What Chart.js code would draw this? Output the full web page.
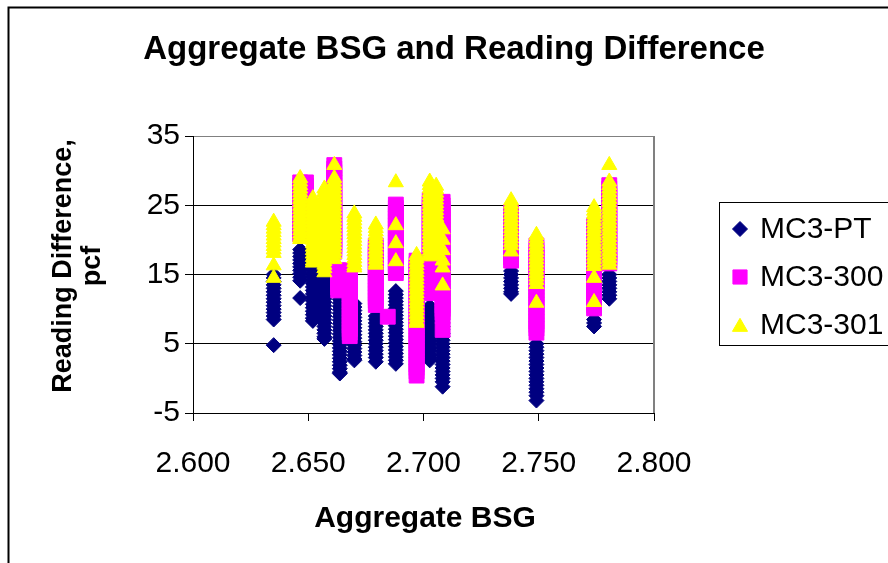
<!DOCTYPE html>
<html>
<head>
<meta charset="utf-8">
<script src="https://cdn.jsdelivr.net/npm/chart.js@4/dist/chart.umd.min.js"></script>
<style>
  html, body { margin: 0; padding: 0; background: #ffffff; }
  #wrap { position: relative; width: 888px; height: 563px; overflow: hidden; }
  canvas { display: block; }
</style>
</head>
<body>
<div id="wrap"><canvas id="c" width="888" height="563"></canvas></div>
<script>
// ---- Data ----
const titleText = 'Aggregate BSG and Reading Difference';
const xTitle = 'Aggregate BSG';
const yTitleLines = ['Reading Difference,', 'pcf'];
const seriesNames = ['MC3-PT', 'MC3-300', 'MC3-301'];
const xTickValues = [2.600, 2.650, 2.700, 2.750, 2.800];
const yTickValues = [-5, 5, 15, 25, 35];

// MC3-PT : column x positions and the readings stacked at each
const ptX = [2.635, 2.6465, 2.652, 2.657, 2.6637, 2.670, 2.6793, 2.688, 2.7027, 2.7083, 2.738, 2.749, 2.774, 2.7806];
const ptY = [
  [15, 14.5, 14, 13.5, 13, 12.5, 12, 11.5, 11, 10.5, 10, 9.5, 9, 8.5, 4.8],
  [18.6, 18.1, 17.6, 17.1, 16.6, 16.1, 15.6, 15.1, 14.6, 14.1, 11.6],
  [15.7, 15.2, 14.7, 14.2, 13.7, 13.2, 12.7, 12.2, 11.7, 11.2, 10.7, 10.2, 9.7, 9.2, 8.7, 8.3],
  [14.5, 14, 13.5, 13, 12.5, 12, 11.5, 11, 10.5, 10, 9.5, 9, 8.5, 8, 7.5, 7, 6.5, 6, 5.7],
  [11.4, 10.9, 10.4, 9.9, 9.4, 8.9, 8.4, 7.9, 7.4, 6.9, 6.4, 5.9, 5.4, 4.9, 4.4, 3.9, 3.4, 2.9, 2.4, 1.9, 1.4, 0.9, 0.7],
  [10.8, 10.3, 9.8, 9.3, 8.8, 8.3, 7.8, 7.3, 6.8, 6.3, 5.8, 5.3, 4.8, 4.3, 3.8, 3.3, 2.8, 2.6],
  [9, 8.5, 8, 7.5, 7, 6.5, 6, 5.5, 5, 4.5, 4, 3.5, 3, 2.4],
  [12.6, 12.1, 11.6, 11.1, 10.6, 10.1, 9.6, 9.1, 8.6, 8.1, 7.6, 7.1, 6.6, 6.1, 5.6, 5.1, 4.6, 4.1, 3.6, 3.1, 2.6, 2.1],
  [13.5, 10.4, 9.9, 9.4, 8.9, 8.4, 7.9, 7.4, 6.9, 6.4, 5.9, 5.4, 4.9, 4.4, 3.9, 3.4, 2.9, 2.6],
  [8, 7.5, 7, 6.5, 6, 5.5, 5, 4.5, 4, 3.5, 3, 2.5, 2, 1.5, 1, 0.5, 0, -0.5, -1.2],
  [15.5, 15, 14.5, 14, 13.5, 13, 12.5, 12.2],
  [5, 4.5, 4, 3.5, 3, 2.5, 2, 1.5, 1, 0.5, 0, -0.5, -1, -1.5, -2, -2.5, -3.2],
  [8.5, 8, 7.5],
  [15, 14.5, 14, 13.5, 13, 12.5, 12, 11.5]
];

// MC3-300
const m300X = [2.6465, 2.649, 2.6613, 2.663, 2.668, 2.6793, 2.6845, 2.688, 2.697, 2.7027, 2.7083, 2.738, 2.749, 2.774, 2.7806];
const m300Y = [
  [28.3, 27.8, 27.3, 26.8, 26.3, 25.8, 25.3, 24.8, 24.3, 23.8, 23.3, 22.8, 22.3, 21.8, 21.3, 20.8],
  [28.3, 27.8, 27.3, 26.8, 26.3, 25.8, 25.3, 24.8, 24.3, 23.8, 23.3, 22.8, 22.3, 21.8, 21.3],
  [30.8, 30.3, 29.8, 29.3, 28.8, 28.3, 27.8, 27.3, 26.8, 26.3, 25.8, 25.3, 24.8, 24.3, 23.8, 23.3, 22.8, 22.3, 21.8, 21.3, 20.8, 20.3, 19.8, 19.3, 18.8, 18.3],
  [15.6, 15.1, 14.6, 14.1, 13.6, 13.1, 12.7],
  [15.6, 15.1, 14.6, 14.1, 13.6, 13.1, 12.6, 12.1, 11.6, 11.1, 10.6, 10.1, 9.6, 9.1, 8.6, 8.1, 7.6, 7.1, 6.6, 6.1],
  [19.2, 18.7, 18.2, 17.7, 17.2, 16.7, 16.2, 15.7, 15.2, 14.7, 14.2, 13.7, 13.2, 12.7, 12.2, 11.7, 11.2, 10.6],
  [8.9],
  [25.1, 24.6, 24.1, 23.6, 23.1, 22.6, 22.1, 21.6, 21.1, 20.6, 20.1, 19.6, 19.1, 18.6, 18.1, 17.6, 17.1, 16.6, 16.1, 15.6, 15.2],
  [17, 16.5, 16, 15.5, 15, 14.5, 14, 13.5, 13, 12.5, 12, 11.5, 11, 10.5, 10, 9.5, 9, 8.5, 8, 7.5, 7, 6.5, 6, 5.5, 5, 4.5, 4, 3.5, 3, 2.5, 2, 1.5, 1, 0.4],
  [25.8, 25.3, 24.8, 24.3, 23.8, 23.3, 22.8, 22.3, 21.8, 21.3, 20.8, 20.3, 19.8, 19.3, 18.8, 18.3, 17.8, 17.3, 16.8, 16.3, 15.8, 15.3, 14.8, 14.3, 13.8, 13.3, 12.8, 12.3],
  [25.5, 25, 24.5, 24, 23.5, 23, 22.5, 22, 21.5, 21, 20.5, 20, 19.5, 19, 18.5, 18, 17.5, 17, 16.5, 16, 15.5, 15, 14.5, 14, 13.5, 13, 12.5, 12, 11.5, 11, 10.5, 10, 9.5, 9, 7],
  [24, 23.5, 23, 22.5, 22, 21.5, 21, 20.5, 20, 19.5, 19, 18.5, 18, 17.5, 17],
  [19.2, 18.7, 18.2, 17.7, 17.2, 16.7, 16.2, 15.7, 15.2, 14.7, 14.2, 13.7, 13.2, 12.7, 12.2, 11.7, 11.2, 10.7, 10.2, 9.7, 9.2, 8.7, 8.2, 7.7, 7.2, 6.6],
  [22.1, 21.6, 21.1, 20.6, 20.1, 19.6, 19.1, 18.6, 18.1, 17.6, 17.1, 16.6, 16.1, 15.6, 15.1, 14.6, 14.1, 13.6, 13.1, 12.6, 12.1, 11.6, 11.1, 10.6, 10.1],
  [27.9, 27.4, 26.9, 26.4, 25.9, 25.4, 24.9, 24.4, 23.9, 23.4, 22.9, 22.4, 21.9, 21.4, 20.9, 20.4, 19.9, 19.4, 18.9, 18.4, 17.9, 17.4, 16.9, 16.6]
];

// MC3-301
const m301X = [2.635, 2.6465, 2.652, 2.657, 2.6613, 2.670, 2.6793, 2.688, 2.697, 2.7027, 2.7055, 2.7083, 2.738, 2.749, 2.774, 2.7806];
const m301Y = [
  [22.6, 22.1, 21.6, 21.1, 20.6, 20.1, 19.6, 19.1, 18.6, 18.1, 16.3, 14.5],
  [28.9, 28.4, 27.9, 27.4, 26.9, 26.4, 25.9, 25.4, 24.9, 24.4, 23.9, 23.4, 22.9, 22.4, 21.9, 21.4, 20.9, 20.4, 20.1],
  [26, 25.5, 25, 24.5, 24, 23.5, 23, 22.5, 22, 21.5, 21, 20.5, 20, 19.5, 19, 18.5, 18, 17.5, 17, 16.7],
  [27.4, 26.9, 26.4, 25.9, 25.4, 24.9, 24.4, 23.9, 23.4, 22.9, 22.4, 21.9, 21.4, 20.9, 20.4, 19.9, 19.4, 18.9, 18.4, 17.9, 17.4, 16.9, 16.4, 15.9, 15.3],
  [30.8, 28.9, 28.4, 27.9, 27.4, 26.9, 26.4, 25.9, 25.4, 24.9, 24.4, 23.9, 23.4, 22.9, 22.4, 21.9, 21.4, 20.9, 20.4, 19.9, 19.4, 18.9, 18.4, 17.9, 17.2],
  [23.8, 23.3, 22.8, 22.3, 21.8, 21.3, 20.8, 20.3, 19.8, 19.3, 18.8, 18.3, 17.8, 17.3, 16.8, 16.3, 16],
  [22.2, 21.7, 21.2, 20.7, 20.2, 19.7, 19.2, 18.7, 18.2, 17.7, 17.2, 16.7, 16.4],
  [28.3, 22.1, 19.5, 16.9],
  [17.8, 17.3, 16.8, 16.3, 15.8, 15.3, 14.8, 14.3, 13.8, 13.3, 12.8, 12.3, 11.8, 11.3, 10.8, 10.3, 9.8, 9.3, 8.8, 8.3, 8],
  [28.4, 27.9, 27.4, 26.9, 26.4, 25.9, 25.4, 24.9, 24.4, 23.9, 23.4, 22.9, 22.4, 21.9, 21.4, 20.9, 20.4, 19.9, 19.4, 18.9, 18.4, 17.9, 17.6],
  [27.8, 27.3, 26.8, 26.3, 25.8, 25.3, 24.8, 24.3, 23.8, 23.3, 22.8, 22.3, 21.8, 21.3, 20.8, 20.3, 19.8, 19.3, 18.8, 18.3, 17.8],
  [21.5, 20, 18.5, 17, 16, 13.4],
  [25.7, 25.2, 24.7, 24.2, 23.7, 23.2, 22.7, 22.2, 21.7, 21.2, 20.7, 20.2, 19.7, 19.2, 18.3],
  [20.7, 20.2, 19.7, 19.2, 18.7, 18.2, 17.7, 17.2, 16.7, 16.2, 15.7, 15.2, 14.7, 14.2, 13.6, 10.9],
  [24.7, 24.2, 23.7, 23.2, 22.7, 22.2, 21.7, 21.2, 20.7, 20.2, 19.7, 19.2, 18.7, 18.2, 17.7, 17.2, 16.7, 16.2, 14.5, 11],
  [30.8, 28.4, 27.9, 27.4, 26.9, 26.4, 25.9, 25.4, 24.9, 24.4, 23.9, 23.4, 22.9, 22.4, 21.9, 21.4, 20.9, 20.4, 19.9, 19.4, 18.9, 18.4, 17.9, 17.4, 16.9, 16.4]
];

// ---- build points from the arrays ----
function toPoints(xs, ys) {
  const pts = [];
  xs.forEach((x, i) => ys[i].forEach(y => pts.push({ x: x, y: y })));
  return pts;
}

const FONT = '"Liberation Sans", Arial, Helvetica, sans-serif';
const styles = [
  { color: '#000080', pointStyle: 'rectRot', radius: 7.5, legendRadius: 7.5 },
  { color: '#FF00FF', pointStyle: 'rect', radius: 10.5, legendRadius: 10 },
  { color: '#FFFF00', pointStyle: 'triangle', radius: 8.7, legendRadius: 8.7 }
];

function drawMarker(ctx, style, r, x, y) {
  ctx.save();
  ctx.fillStyle = style.color;
  ctx.strokeStyle = style.color;
  ctx.lineWidth = 1;
  ctx.beginPath();
  if (style.pointStyle === 'rectRot') {
    ctx.moveTo(x, y - r); ctx.lineTo(x + r, y); ctx.lineTo(x, y + r); ctx.lineTo(x - r, y); ctx.closePath();
  } else if (style.pointStyle === 'rect') {
    const s = r * Math.SQRT1_2;
    ctx.rect(x - s, y - s, 2 * s, 2 * s);
  } else {
    const a = Math.PI * 2 / 3;
    ctx.moveTo(x, y - r);
    ctx.lineTo(x + Math.sin(a) * r, y - Math.cos(a) * r);
    ctx.lineTo(x + Math.sin(2 * a) * r, y - Math.cos(2 * a) * r);
    ctx.closePath();
  }
  ctx.fill();
  ctx.stroke();
  ctx.restore();
}

const decor = {
  id: 'decor',
  afterDraw(chart) {
    const ctx = chart.ctx;
    const a = chart.chartArea;
    ctx.save();
    // plot area right border (grey)
    ctx.strokeStyle = '#808080';
    ctx.lineWidth = 2;
    ctx.beginPath();
    ctx.moveTo(a.right, a.top); ctx.lineTo(a.right, a.bottom);
    ctx.stroke();
    // outer chart frame
    ctx.strokeStyle = '#000000';
    ctx.lineWidth = 2;
    ctx.beginPath();
    ctx.moveTo(8.5, 600); ctx.lineTo(8.5, 7.5); ctx.lineTo(900, 7.5);
    ctx.stroke();
    // title
    ctx.fillStyle = '#000000';
    ctx.textAlign = 'center';
    ctx.textBaseline = 'alphabetic';
    ctx.font = 'bold 33px ' + FONT;
    ctx.fillText(titleText, 454, 59);
    // x axis title
    ctx.font = 'bold 30px ' + FONT;
    ctx.fillText(xTitle, 425, 527);
    // y axis title (rotated, two lines)
    ctx.font = 'bold 27px ' + FONT;
    ctx.save();
    ctx.translate(71, 266);
    ctx.rotate(-Math.PI / 2);
    ctx.fillText(yTitleLines[0], 0, 0);
    ctx.restore();
    ctx.save();
    ctx.translate(100, 266);
    ctx.rotate(-Math.PI / 2);
    ctx.fillText(yTitleLines[1], 0, 0);
    ctx.restore();
    // legend
    ctx.strokeStyle = '#000000';
    ctx.lineWidth = 1;
    ctx.strokeRect(719.5, 202.5, 200, 143);
    const rows = [229, 277, 325];
    ctx.font = '30px ' + FONT;
    ctx.textAlign = 'left';
    ctx.textBaseline = 'middle';
    seriesNames.forEach((name, i) => {
      drawMarker(ctx, styles[i], styles[i].legendRadius, 740, rows[i] + (i === 2 ? 2 : 0));
      ctx.fillStyle = '#000000';
      ctx.fillText(name, 760, rows[i] + 1);
    });
    ctx.restore();
  }
};

const datasets = [
  { label: seriesNames[0], data: toPoints(ptX, ptY), order: 3 },
  { label: seriesNames[1], data: toPoints(m300X, m300Y), order: 2 },
  { label: seriesNames[2], data: toPoints(m301X, m301Y), order: 1 }
].map((d, i) => Object.assign(d, {
  backgroundColor: styles[i].color,
  borderColor: styles[i].color,
  borderWidth: 1,
  pointStyle: styles[i].pointStyle,
  pointRadius: styles[i].radius,
  pointHoverRadius: styles[i].radius
}));

new Chart(document.getElementById('c'), {
  type: 'scatter',
  data: { datasets: datasets },
  options: {
    responsive: false,
    animation: false,
    devicePixelRatio: 1,
    layout: { padding: { left: 0, top: 136, right: 234, bottom: 0 } },
    plugins: { legend: { display: false }, title: { display: false }, tooltip: { enabled: false } },
    scales: {
      x: {
        type: 'linear',
        min: 2.6, max: 2.8,
        afterBuildTicks: (s) => { s.ticks = xTickValues.map(v => ({ value: v })); },
        afterFit: (s) => { s.height = 150; },
        ticks: {
          color: '#000000',
          font: { family: FONT, size: 30 },
          padding: 25,
          maxRotation: 0,
          autoSkip: false,
          callback: (v) => Number(v).toFixed(3)
        },
        grid: { drawOnChartArea: false, drawTicks: true, tickLength: 8, color: '#000000', tickColor: '#000000' },
        border: { display: true, color: '#000000', width: 1 }
      },
      y: {
        type: 'linear',
        min: -5, max: 35,
        afterBuildTicks: (s) => { s.ticks = yTickValues.map(v => ({ value: v })); },
        afterFit: (s) => { s.width = 193; },
        ticks: {
          color: '#000000',
          font: { family: FONT, size: 30 },
          padding: 5,
          autoSkip: false,
          callback: (v) => String(v)
        },
        grid: {
          drawTicks: true, tickLength: 8,
          color: (c) => (c.tick && c.tick.value === 35 ? '#808080' : '#000000'),
          tickColor: '#000000',
          lineWidth: 1
        },
        border: { display: true, color: '#000000', width: 1 }
      }
    }
  },
  plugins: [decor]
});
</script>
</body>
</html>
